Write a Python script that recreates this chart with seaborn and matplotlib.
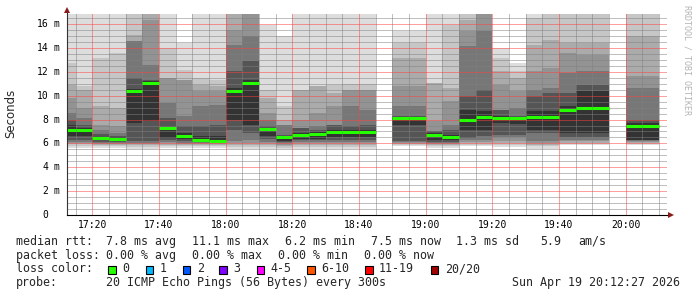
import numpy as np
import pandas as pd
import matplotlib
matplotlib.use("Agg")
import matplotlib.pyplot as plt
import seaborn as sns
from matplotlib.patches import Rectangle

nan = np.nan

# ---------------- data ----------------
bin_times = ["17:10", "17:15", "17:20", "17:25", "17:30", "17:35", "17:40", "17:45", "17:50",
             "17:55", "18:00", "18:05", "18:10", "18:15", "18:20", "18:25", "18:30", "18:35",
             "18:40", "18:45", "18:50", "18:55", "19:00", "19:05", "19:10", "19:15", "19:20",
             "19:25", "19:30", "19:35", "19:40", "19:45", "19:50", "19:55", "20:00", "20:05"]

median_ms = [7.15, 7.15, 6.45, 6.38, 10.43, 11.10, 7.30, 6.60, 6.27, 6.24, 10.43, 11.10,
             7.22, 6.52, 6.74, 6.80, 6.96, 6.99, 6.99, nan, 8.09, 8.09, 6.71, 6.52,
             7.97, 8.25, 8.11, 8.11, 8.20, 8.20, 8.84, 8.95, 8.95, nan, 7.50, 7.50]

# smoke bands (outer -> inner), upper edges in ms
top1 = [17.5, 17.5, 17.5, 17.5, 17.5, 17.5, 17.5, 14.42, 17.5, 17.5, 17.5, 17.5,
        15.95, 14.98, 17.5, 17.5, 17.5, 17.5, 17.5, nan, 15.4, 15.4, 17.5, 17.5,
        17.5, 17.5, 14.0, 12.74, 17.5, 17.5, 17.5, 17.5, 17.5, nan, 17.5, 17.5]
top2 = [12.74, 10.79, 13.16, 13.58, 17.5, 17.5, 14.0, 12.19, 11.49, 11.35, 17.5, 17.5,
        10.51, 9.12, 10.51, 10.79, 10.93, 11.0, 11.0, nan, 14.42, 14.42, 11.07, 15.95,
        17.5, 17.5, 13.16, 12.05, 16.5, 17.5, 17.5, 17.5, 17.5, nan, 17.5, 17.5]
top3 = [10.93, 10.51, 9.12, 8.98, 15.12, 17.5, 11.49, 11.35, 10.93, 10.79, 17.5, 17.5,
        9.81, 8.0, 10.51, 10.79, 10.23, 10.51, 10.51, nan, 13.16, 13.16, 11.07, 10.65,
        16.37, 17.5, 12.05, 11.49, 14.28, 14.7, 14.42, 14.42, 14.42, nan, 14.98, 14.98]
top4 = [9.81, 8.98, 7.58, 7.44, 14.56, 16.37, 11.49, 11.35, 10.37, 10.37, 15.53, 17.5,
        8.56, 7.58, 8.0, 8.56, 9.12, 10.51, 10.51, nan, 10.79, 10.79, 7.86, 9.54,
        15.4, 17.5, 10.93, 10.37, 12.05, 12.33, 13.58, 13.44, 13.44, nan, 11.63, 11.63]
top5 = [8.56, 8.14, 7.16, 6.88, 14.56, 12.6, 9.40, 8.28, 9.12, 9.26, 14.28, 14.98,
        8.0, 7.58, 7.3, 7.44, 7.58, 9.12, 8.84, nan, 9.12, 9.12, 7.02, 7.58,
        14.14, 15.4, 8.84, 8.98, 10.51, 10.65, 11.91, 12.05, 12.05, nan, 10.65, 10.65]
top6 = [8.0, 7.58, 6.8, 6.65, 11.49, 11.35, 8.14, 7.44, 7.44, 7.58, 12.05, 12.88,
        7.44, 6.74, 7.3, 7.1, 7.58, 7.44, 7.58, nan, 8.28, 8.28, 7.02, 7.16,
        9.95, 10.51, 8.84, 8.28, 9.95, 10.23, 10.23, 10.93, 10.93, nan, 8.0, 8.0]
top7 = [7.58, 7.3, 6.55, 6.5, 10.6, 11.2, 7.4, 6.9, 6.6, 6.6, 10.65, 11.35,
        7.3, 6.6, 6.9, 6.95, 7.1, 7.15, 7.15, nan, 8.2, 8.2, 6.85, 6.7,
        8.84, 8.7, 8.3, 8.2, 8.7, 8.7, 9.12, 10.37, 10.37, nan, 7.7, 7.7]

# lower edges in ms
bot1 = [5.6, 5.6, 5.6, 5.6, 5.5, 5.5, 5.6, 5.6, 5.6, 5.6, 5.5, 5.5,
        5.5, 5.5, 5.5, 5.5, 5.5, 5.5, 5.5, nan, 5.75, 5.75, 5.6, 5.6,
        5.8, 5.8, 5.7, 5.7, 5.55, 5.55, 5.85, 5.85, 5.85, nan, 5.85, 5.85]
bot2 = [5.8, 5.8, 5.75, 5.75, 5.7, 5.7, 5.75, 5.75, 5.75, 5.75, 5.7, 5.7,
        5.7, 5.65, 5.7, 5.7, 5.7, 5.7, 5.7, nan, 5.85, 5.85, 5.75, 5.75,
        5.9, 5.9, 5.85, 5.85, 5.75, 5.75, 5.95, 5.95, 5.95, nan, 5.95, 5.95]
bot3 = [5.95, 5.95, 5.85, 5.85, 5.85, 5.85, 5.9, 5.85, 5.85, 5.85, 5.85, 5.85,
        5.85, 5.8, 5.85, 5.85, 5.85, 5.85, 5.85, nan, 5.95, 5.95, 5.85, 5.85,
        6.0, 6.0, 6.0, 6.0, 5.9, 5.9, 6.05, 6.05, 6.05, nan, 6.05, 6.05]
bot4 = [6.05, 6.05, 5.95, 5.95, 5.95, 5.95, 6.0, 5.95, 5.95, 5.95, 6.0, 6.0,
        6.0, 5.9, 6.0, 6.0, 6.0, 6.0, 6.0, nan, 6.0, 6.0, 5.95, 5.95,
        6.1, 6.1, 6.2, 6.2, 6.05, 6.05, 6.18, 6.18, 6.18, nan, 6.15, 6.15]
bot5 = [6.15, 6.15, 6.05, 6.05, 6.05, 6.05, 6.1, 6.05, 6.0, 6.0, 6.18, 6.3,
        6.15, 6.0, 6.1, 6.1, 6.15, 6.15, 6.15, nan, 6.1, 6.1, 6.05, 6.05,
        6.25, 6.3, 6.5, 6.5, 6.18, 6.18, 6.3, 6.3, 6.3, nan, 6.2, 6.2]
bot6 = [6.3, 6.3, 6.15, 6.15, 6.18, 6.2, 6.3, 6.2, 6.1, 6.1, 7.16, 6.9,
        6.35, 6.1, 6.25, 6.25, 6.3, 6.3, 6.3, nan, 6.18, 6.18, 6.15, 6.15,
        6.46, 6.6, 6.74, 6.74, 6.88, 6.88, 6.5, 6.5, 6.5, nan, 6.25, 6.25]
bot7 = [6.6, 6.6, 6.25, 6.25, 7.72, 7.86, 6.46, 6.35, 6.15, 6.15, 8.0, 7.58,
        6.6, 6.2, 6.4, 6.4, 6.5, 6.5, 6.5, nan, 7.58, 7.58, 6.3, 6.25,
        7.16, 7.16, 7.72, 7.6, 7.16, 7.16, 6.88, 6.88, 6.88, nan, 6.32, 6.32]

smoke_colors = ["#dddddd", "#c6c6c6", "#ababab", "#939393", "#777777", "#555555", "#333333"]

xtick_labels = ["17:20", "17:40", "18:00", "18:20", "18:40", "19:00", "19:20", "19:40", "20:00"]
ytick_vals = [0, 2, 4, 6, 8, 10, 12, 14, 16]
ytick_nums = ["0", "2", "4", "6", "8", "10", "12", "14", "16"]
ytick_units = ["", "m", "m", "m", "m", "m", "m", "m", "m"]

rtt_fields = ["median rtt:", "7.8 ms avg", "11.1 ms max", "6.2 ms min", "7.5 ms now",
              "1.3 ms sd", "5.9", "am/s"]
loss_fields = ["packet loss:", "0.00 % avg", "0.00 % max", "0.00 % min", "0.00 % now"]
loss_labels = ["0", "1", "2", "3", "4-5", "6-10", "11-19", "20/20"]
loss_colors = ["#26ff00", "#00b8ff", "#0059ff", "#7e00ff", "#ff00ff", "#ff5500", "#ff0000", "#a10000"]
probe_text = "20 ICMP Echo Pings (56 Bytes) every 300s"
stamp_text = "Sun Apr 19 20:12:27 2026"


def to_min(s):
    h, m = s.split(":")
    return (int(h) - 17) * 60 + int(m)


# ---------------- figure ----------------
sns.set_style("white")
plt.rcParams["font.family"] = ["DejaVu Sans Mono", "DejaVu Sans"]

W, H = 697, 297
fig = plt.figure(figsize=(W / 100, H / 100), dpi=100)
fig.patch.set_facecolor("white")
ax = fig.add_axes([67 / W, 1 - 215 / H, 600 / W, 201 / H])

x0 = np.array([to_min(t) for t in bin_times], dtype=float)
tops = [top1, top2, top3, top4, top5, top6, top7]
bots = [bot1, bot2, bot3, bot4, bot5, bot6, bot7]
for t, b, c in zip(tops, bots, smoke_colors):
    t = np.array(t, dtype=float)
    b = np.array(b, dtype=float)
    ax.bar(x0, t - b, bottom=b, width=5, align="edge", color=c, linewidth=0, zorder=1)

# median lines (seaborn)
rows = []
for i, (xs, m) in enumerate(zip(x0, median_ms)):
    if np.isnan(m):
        continue
    rows.append({"t": xs, "rtt": m, "seg": i})
    rows.append({"t": xs + 5, "rtt": m, "seg": i})
df = pd.DataFrame(rows)
sns.lineplot(data=df, x="t", y="rtt", units="seg", estimator=None, color="#26ff00",
             linewidth=2.2, ax=ax, zorder=3, legend=False, solid_capstyle="butt")

ax.set_xlim(12.45, 192.45)
ax.set_ylim(0, 16.85)
ax.set_xlabel("")
ax.set_ylabel("")

xt = [to_min(s) for s in xtick_labels]
ax.set_xticks(xt)
ax.set_xticklabels(xtick_labels, fontsize=7, family="DejaVu Sans Mono")
ax.set_xticks(np.arange(15, 192, 5), minor=True)
ax.set_yticks(ytick_vals)
ax.set_yticklabels([])
ax.set_yticks(np.arange(0.5, 16.85, 0.5), minor=True)
ax.tick_params(axis="x", which="both", length=0, pad=3.6, colors="black")
ax.tick_params(axis="y", which="both", length=0)

ax.set_axisbelow(False)
ax.grid(True, which="minor", color=(0.5, 0.5, 0.5, 0.28), linestyle=(0, (1, 1)),
        linewidth=0.72)
ax.grid(True, which="major", color=(1.0, 0.25, 0.25, 0.4), linestyle=(0, (1, 1)),
        linewidth=0.72)

for s in ["top", "right"]:
    ax.spines[s].set_visible(False)
ax.spines["left"].set_color("#333333")
ax.spines["bottom"].set_color("black")
ax.spines["left"].set_linewidth(0.8)
ax.spines["bottom"].set_linewidth(0.8)
ax.spines["left"].set_zorder(4)
ax.spines["bottom"].set_zorder(4)

# axis extensions + arrows
ax.plot([0, 0], [1, 1.025], transform=ax.transAxes, color="#333333", lw=0.8, clip_on=False)
ax.plot([1, 1.004], [0, 0], transform=ax.transAxes, color="black", lw=0.8, clip_on=False)
ax.plot([0], [1.018], marker="^", markersize=4.5, color="#8b1a1a", transform=ax.transAxes,
        clip_on=False, markeredgewidth=0)
ax.plot([1.007], [0], marker=">", markersize=4.5, color="#8b1a1a", transform=ax.transAxes,
        clip_on=False, markeredgewidth=0)

# y tick labels
ytr = ax.get_yaxis_transform()
for v, n, u in zip(ytick_vals, ytick_nums, ytick_units):
    ax.annotate(n, xy=(0, v), xycoords=ytr, xytext=(-18.5 * 0.72, 0), textcoords="offset points",
                ha="right", va="center", fontsize=7, family="DejaVu Sans Mono", color="black")
    if u:
        ax.annotate(u, xy=(0, v), xycoords=ytr, xytext=(-7.7 * 0.72, 0), textcoords="offset points",
                    ha="right", va="center", fontsize=7, family="DejaVu Sans Mono", color="black")

fig.text(11 / W, 1 - 113 / H, "Seconds", rotation=90, ha="center", va="center",
         fontsize=8.5, family="DejaVu Sans")
fig.text(687 / W, 1 - 60 / H, "RRDTOOL / TOBI OETIKER", rotation=270, ha="center", va="center",
         fontsize=6, family="DejaVu Sans Mono", color="#b4b4b4")


def px(x, y):
    return x / W, 1 - y / H


fs = 8.4
rtt_x = [16, 106, 192, 285, 371, 456.5, 540, 578]
for s, x in zip(rtt_fields, rtt_x):
    fig.text(*px(x, 245), s, fontsize=fs, family="DejaVu Sans Mono", va="baseline")
loss_x = [16, 106, 192, 278, 364]
for s, x in zip(loss_fields, loss_x):
    fig.text(*px(x, 258.7), s, fontsize=fs, family="DejaVu Sans Mono", va="baseline")
fig.text(*px(16, 272.3), "loss color:", fontsize=fs, family="DejaVu Sans Mono", va="baseline")
box_x = [108.3, 145.7, 182.7, 219.3, 256.7, 307.3, 365, 430.7]
for lab, col, bx in zip(loss_labels, loss_colors, box_x):
    fig.patches.append(Rectangle(px(bx, 273.5), 7.5 / W, 8 / H, transform=fig.transFigure,
                                 facecolor=col, edgecolor="black", linewidth=0.8))
    fig.text(*px(bx + 14, 272.3), lab, fontsize=fs, family="DejaVu Sans Mono", va="baseline")
fig.text(*px(16, 286), "probe:", fontsize=fs, family="DejaVu Sans Mono", va="baseline")
fig.text(*px(106, 286), probe_text, fontsize=fs, family="DejaVu Sans Mono", va="baseline")
fig.text(*px(512, 286), stamp_text, fontsize=fs, family="DejaVu Sans Mono", va="baseline")

fig.savefig("out.png", dpi=100, facecolor="white")
